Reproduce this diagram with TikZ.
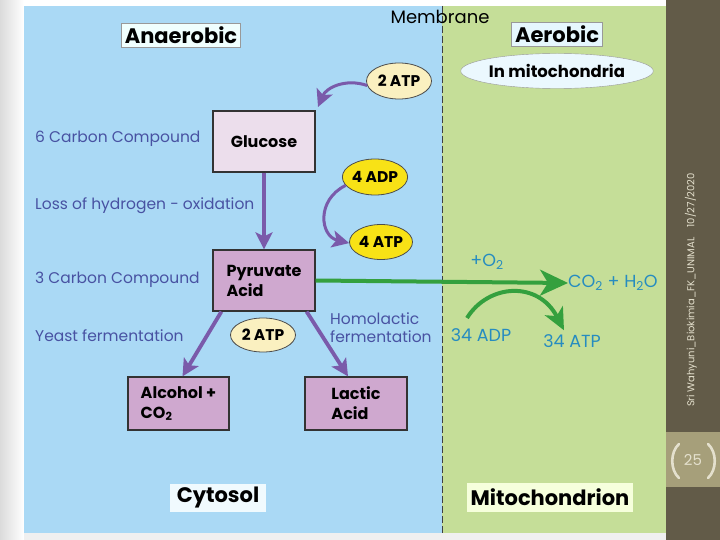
\documentclass[tikz,border=0pt]{standalone}
\usepackage{fontspec}
\setmainfont{Poppins}
\definecolor{cytoBlue}{RGB}{170,217,245}
\definecolor{mitoGreen}{RGB}{197,222,152}
\definecolor{sideBrown}{RGB}{98,91,72}
\definecolor{sideBand}{RGB}{166,159,122}
\definecolor{sideText}{RGB}{228,224,205}
\definecolor{pathPurple}{RGB}{122,90,170}
\definecolor{pathGreen}{RGB}{52,160,62}
\definecolor{labelBlue}{RGB}{72,82,162}
\definecolor{aeroBlue}{RGB}{38,140,192}
\definecolor{boxPink}{RGB}{236,222,236}
\definecolor{boxMauve}{RGB}{207,168,207}
\definecolor{atpYellow}{RGB}{248,226,22}
\definecolor{atpPale}{RGB}{250,240,192}
\usetikzlibrary{arrows.meta,shapes.geometric,calc}

\begin{document}
\begin{tikzpicture}[x=1pt,y=-1pt,
    cmp/.style={rectangle, draw=black!80, line width=1.2pt, fill=boxMauve,
                minimum width=102pt, minimum height=53pt, align=left,
                font=\fontsize{16}{20}\selectfont\bfseries},
    atp/.style={ellipse, draw=black!70, line width=0.8pt, fill=atpYellow,
                minimum width=65pt, minimum height=36pt, inner sep=0pt,
                font=\fontsize{15.5}{17}\selectfont\bfseries},
    sidetag/.style={rectangle, draw=black!40, line width=0.6pt,
                font=\fontsize{21}{23}\selectfont\bfseries},
    note/.style={anchor=west, text=labelBlue, inner sep=0pt,
                font=\fontsize{15.5}{18}\selectfont},
    aero/.style={text=aeroBlue, inner sep=0pt, font=\fontsize{17.5}{19}\selectfont},
    purp/.style={-{Stealth[length=17pt,width=17pt,inset=4pt]}, pathPurple, line width=3.8pt},
    grn/.style={-{Stealth[length=28pt,width=26pt,inset=8pt]}, pathGreen, line width=4pt}
  ]
  % slide background
  \useasboundingbox (0,0) rectangle (720,540);
  \shade[left color=black!14, right color=white] (0,0) rectangle (24,540);
  \fill[white] (24,0) rectangle (666,6);
  \fill[black!6] (24,533) rectangle (666,540);
  \fill[cytoBlue] (24,6) rectangle (442,533);
  \fill[mitoGreen] (442,6) rectangle (666,533);
  \fill[sideBrown] (666,0) rectangle (720,540);
  \fill[sideBand] (666,432) rectangle (720,487);
  \draw[black!75, dashed, line width=0.9pt, dash pattern=on 7pt off 3pt] (442,6) -- (442,533);

  % side strip
  \node[rotate=90, text=sideText, font=\fontsize{10}{12}\selectfont] (foot) at (691,290)
    {Sri Wahyuni\_Biokimia\_FK\_UNIMAL\quad 10/27/2020};
  \node[text=sideText, font=\fontsize{15}{17}\selectfont] (page) at (693,460) {25};
  \draw[sideText, line width=2.6pt, line cap=round] (679,444) .. controls (670,452) and (670,470) .. (679,478);
  \draw[sideText, line width=2.6pt, line cap=round] (708,444) .. controls (717,452) and (717,470) .. (708,478);

  % headings
  \node[sidetag, fill=green!8!cyan!6] (anaer) at (181,35) {Anaerobic};
  \node[sidetag, fill=cyan!10] (aer) at (557,34) {Aerobic};
  \node[ellipse, draw=black!40, fill=cyan!8, minimum width=158pt, minimum height=35pt,
        inner sep=0pt, font=\fontsize{16.5}{18}\selectfont\bfseries] (inmito) at (557,71) {In mitochondria};
  \node[font=\fontsize{18}{20}\selectfont] (memb) at (440,17) {Membrane};

  % compounds
  \node[cmp, fill=boxPink, minimum height=61pt] (glu) at (264,141.5) {Glucose};
  \node[cmp, minimum height=61pt] (pyr) at (264,280.5) {Pyruvate\\Acid};
  \node[cmp, minimum width=101pt] (alc) at (178.5,403.5) {Alcohol +\\CO\textsubscript{2}};
  \node[cmp] (lac) at (356,403.5) {Lactic\\Acid};

  % energy
  \node[atp, fill=atpPale] (atptop) at (399,81) {2 ATP};
  \node[atp] (adp) at (375,177) {4 ADP};
  \node[atp, minimum width=63pt, minimum height=35pt] (atpfour) at (381,242) {4 ATP};
  \node[atp, fill=atpPale, minimum height=34pt] (atpmid) at (263,335) {2 ATP};

  % left notes
  \node[note] (six) at (35,139) {6 Carbon Compound};
  \node[note] (loss) at (35,206) {Loss of hydrogen - oxidation};
  \node[note] (three) at (35,280) {3 Carbon Compound};
  \node[note] (yeast) at (35,336) {Yeast fermentation};
  \node[note, align=left] (homo) at (330,328) {Homolactic\\fermentation};

  % aerobic notes
  \node[aero] (otwo) at (487,262) {+O\textsubscript{2}};
  \node[aero, anchor=west] (co) at (568,283) {CO\textsubscript{2} + H\textsubscript{2}O};
  \node[aero] (adpft) at (481,335) {34 ADP};
  \node[aero] (atpft) at (572,341) {34 ATP};

  % bottom tags
  \node[sidetag, draw=none, fill=cyan!6, minimum width=96pt, minimum height=28pt] (cyto) at (218,498) {Cytosol};
  \node[sidetag, draw=none, fill=green!4!white!90!yellow, minimum width=166pt, minimum height=29pt] (mito) at (550,497) {Mitochondrion};

  % arrows
  \coordinate (gluin) at (318,107);
  \draw[purp, line width=3pt] (atptop.188) .. controls (345,78) and (326,88) .. (gluin);
  \draw[purp, line width=3pt] (adp.196) .. controls (316,200) and (320,236) .. (atpfour.182);
  \draw[purp] (glu.south) -- (pyr.north);
  \draw[purp] ([xshift=9pt]pyr.south west) -- ([xshift=4pt]alc.north);
  \draw[purp] ([xshift=-9pt]pyr.south east) -- ([xshift=-8pt]lac.north);

  \draw[grn] (pyr.east) -- (co.west);
  \coordinate (arcstart) at (467,318);
  \draw[grn, -{Stealth[length=22pt,width=20pt,inset=6pt]}] (arcstart)
    .. controls (488,284) and (538,280) .. ([xshift=-8pt,yshift=4pt]atpft.north);
\end{tikzpicture}
\end{document}
